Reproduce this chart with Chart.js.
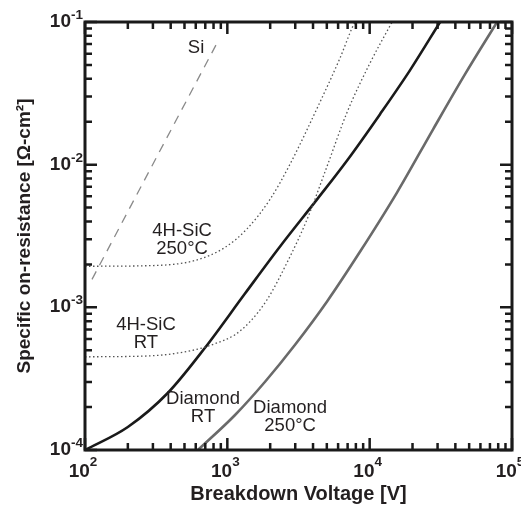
<!DOCTYPE html>
<html><head><meta charset="utf-8">
<script src="https://cdn.jsdelivr.net/npm/chart.js@4.4.0/dist/chart.umd.min.js"></script>
<style>html,body{margin:0;padding:0;background:#fff}#wrap{width:521px;height:508px}</style>
</head><body><div id="wrap"><canvas id="c" width="521" height="508"></canvas></div>
<script>
// ---- data ----
const siVoltage = [112, 326, 870];
const siRes = [1.57e-3, 1.18e-2, 7.5e-2];

const sic250Voltage = [100, 286, 593, 963, 1375, 1995, 2760, 4480, 6195, 7640, 7900];
const sic250Res = [1.94e-3, 1.96e-3, 2.13e-3, 2.63e-3, 3.55e-3, 5.71e-3, 1.01e-2, 2.75e-2, 5.6e-2, 9.4e-2, 1.0e-1];

const sicRtVoltage = [100, 286, 593, 819, 1132, 1444, 1901, 2628, 3631, 5020, 6940, 10070, 14370];
const sicRtRes = [4.5e-4, 4.57e-4, 5.04e-4, 5.56e-4, 6.43e-4, 7.94e-4, 1.13e-3, 2.06e-3, 4.13e-3, 9.75e-3, 2.33e-2, 5.17e-2, 1.0e-1];

const diaRtVoltage = [100, 200, 383, 697, 1331, 2346, 4270, 6940, 11830, 19230, 31250];
const diaRtRes = [1.0e-4, 1.45e-4, 2.52e-4, 5.21e-4, 1.25e-3, 2.67e-3, 5.71e-3, 1.07e-2, 2.26e-2, 4.6e-2, 1.0e-1];

const dia250Voltage = [622, 1133, 1841, 2991, 5020, 8570, 15590, 27900, 46800, 78600];
const dia250Res = [1.0e-4, 1.76e-4, 3.01e-4, 5.47e-4, 1.10e-3, 2.46e-3, 6.40e-3, 1.77e-2, 4.31e-2, 1.0e-1];

const xTickValues = [1e2, 1e3, 1e4, 1e5];
const xTickExponents = ['2', '3', '4', '5'];
const yTickValues = [1e-4, 1e-3, 1e-2, 1e-1];
const yTickExponents = ['-4', '-3', '-2', '-1'];

const labelTexts = [['Si'], ['4H-SiC', '250°C'], ['4H-SiC', 'RT'], ['Diamond', 'RT'], ['Diamond', '250°C']];
const labelVoltage = [603, 481, 268, 675, 2762];
const labelRes = [6.58e-2, 2.99e-3, 6.49e-4, 1.97e-4, 1.71e-4];

// ---- chart ----
const TXT = '#231f20';
const FONT = '"Liberation Sans", Arial, Helvetica, sans-serif';
const pts = (xs, ys) => xs.map((x, i) => ({x: x, y: ys[i]}));

const framePlugin = {
  id: 'frame',
  afterDatasetsDraw(chart) {
    const ctx = chart.ctx, a = chart.chartArea;
    const xs = chart.scales.x, ys = chart.scales.y;
    ctx.save();
    ctx.strokeStyle = '#1a1a1a';
    ctx.lineWidth = 3;
    ctx.strokeRect(a.left, a.top, a.right - a.left, a.bottom - a.top);
    ctx.lineWidth = 2.5;
    ctx.beginPath();
    for (let d = -5; d <= 5; d++) {
      for (let m = 1; m <= 9; m++) {
        const v = m * Math.pow(10, d);
        const len = m === 1 ? 12 : 7;
        if (v >= xs.min * 0.999 && v <= xs.max * 1.001) {
          const px = xs.getPixelForValue(v);
          ctx.moveTo(px, a.bottom); ctx.lineTo(px, a.bottom - len);
          ctx.moveTo(px, a.top); ctx.lineTo(px, a.top + len);
        }
        if (v >= ys.min * 0.999 && v <= ys.max * 1.001) {
          const py = ys.getPixelForValue(v);
          ctx.moveTo(a.left, py); ctx.lineTo(a.left + len, py);
          ctx.moveTo(a.right, py); ctx.lineTo(a.right - len, py);
        }
      }
    }
    ctx.stroke();

    // tick labels
    ctx.fillStyle = TXT;
    ctx.textBaseline = 'alphabetic';
    const big = 'bold 19px ' + FONT, small = 'bold 13.5px ' + FONT;
    xTickValues.forEach((v, i) => {
      const px = xs.getPixelForValue(v);
      ctx.font = big; const w1 = ctx.measureText('10').width;
      ctx.font = small; const w2 = ctx.measureText(xTickExponents[i]).width;
      const x0 = px - 2 - (w1 + w2) / 2;
      ctx.textAlign = 'left';
      ctx.font = big; ctx.fillText('10', x0, 477);
      ctx.font = small; ctx.fillText(xTickExponents[i], x0 + w1, 466);
    });
    yTickValues.forEach((v, i) => {
      const py = ys.getPixelForValue(v);
      ctx.font = small; const w2 = ctx.measureText(yTickExponents[i]).width;
      ctx.textAlign = 'right';
      ctx.fillText(yTickExponents[i], 83, py - 3);
      ctx.font = big; ctx.fillText('10', 83 - w2, py + 5);
    });

    // curve labels
    ctx.font = '18.5px ' + FONT;
    ctx.textAlign = 'center';
    ctx.textBaseline = 'middle';
    labelTexts.forEach((lines, i) => {
      const cx = xs.getPixelForValue(labelVoltage[i]);
      const cy = ys.getPixelForValue(labelRes[i]);
      const lh = 18;
      lines.forEach((t, j) => {
        ctx.fillText(t, cx, cy + (j - (lines.length - 1) / 2) * lh);
      });
    });
    ctx.restore();
  }
};

new Chart(document.getElementById('c'), {
  type: 'scatter',
  data: {
    datasets: [
      {label: 'Si', data: pts(siVoltage, siRes), borderColor: '#8a8a8a', borderWidth: 1.3, borderDash: [9, 7]},
      {label: '4H-SiC 250°C', data: pts(sic250Voltage, sic250Res), borderColor: '#555', borderWidth: 1.3, borderDash: [1.5, 2.5]},
      {label: '4H-SiC RT', data: pts(sicRtVoltage, sicRtRes), borderColor: '#555', borderWidth: 1.3, borderDash: [1.5, 2.5]},
      {label: 'Diamond RT', data: pts(diaRtVoltage, diaRtRes), borderColor: '#1a1a1a', borderWidth: 2.6},
      {label: 'Diamond 250°C', data: pts(dia250Voltage, dia250Res), borderColor: '#6a6a6a', borderWidth: 2.6}
    ].map(d => Object.assign(d, {showLine: true, pointRadius: 0, fill: false, cubicInterpolationMode: 'monotone'}))
  },
  options: {
    responsive: false,
    devicePixelRatio: 1,
    animation: false,
    layout: {padding: {top: 22, right: 9, left: 0, bottom: 0}},
    plugins: {legend: {display: false}, tooltip: {enabled: false}},
    scales: {
      x: {
        type: 'logarithmic', min: 100, max: 1e5,
        ticks: {display: false}, grid: {display: false}, border: {display: false},
        title: {display: true, text: 'Breakdown Voltage [V]', color: TXT,
          font: {family: FONT, weight: 'bold', size: 20}, padding: {top: 0, bottom: 2}},
        afterFit(s) { s.height = 58; }
      },
      y: {
        type: 'logarithmic', min: 1e-4, max: 1e-1,
        ticks: {display: false}, grid: {display: false}, border: {display: false},
        title: {display: true, text: 'Specific on-resistance [Ω-cm²]', color: TXT,
          font: {family: FONT, weight: 'bold', size: 19}, padding: {top: 13, bottom: 0}},
        afterFit(s) { s.width = 85; }
      }
    }
  },
  plugins: [framePlugin]
});
</script>
</body></html>
